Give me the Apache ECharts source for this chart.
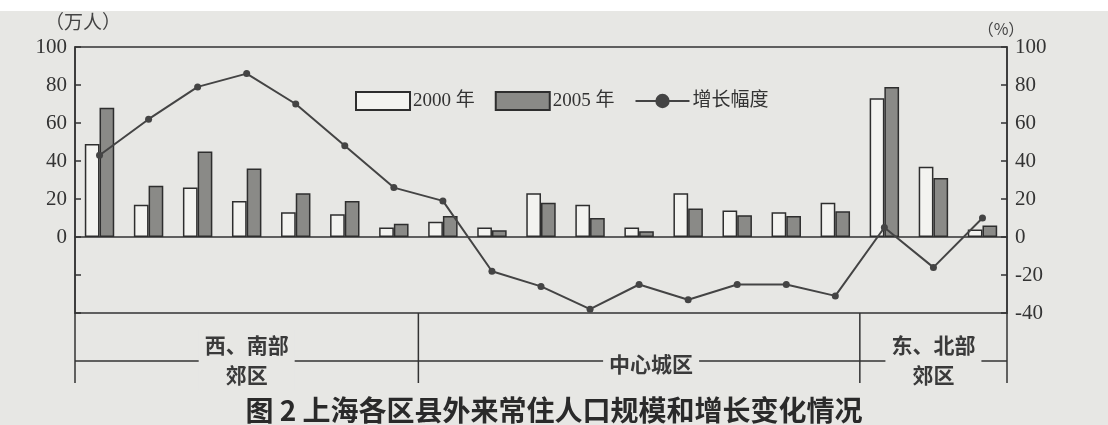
<!DOCTYPE html>
<html>
<head>
<meta charset="utf-8">
<script src="https://cdn.jsdelivr.net/npm/echarts@6/dist/echarts.min.js"></script>
<style>
html,body{margin:0;padding:0;background:#e7e7e4;}
#c{width:1108px;height:425px;}
</style>
</head>
<body>
<div id="c"></div>
<script>
// ---- data ----
const categories = ['区县1','区县2','区县3','区县4','区县5','区县6','区县7','区县8','区县9','区县10',
  '区县11','区县12','区县13','区县14','区县15','区县16','区县17','区县18','区县19'];
const pop2000 = [49, 17, 26, 19, 13, 12, 5, 8, 5, 23, 17, 5, 23, 14, 13, 18, 73, 37, 4];
const pop2005 = [68, 27, 45, 36, 23, 19, 7, 11, 3.5, 18, 10, 3, 15, 11.5, 11, 13.5, 79, 31, 6];
const growth  = [43, 62, 79, 86, 70, 48, 26, 19, -18, -26, -38, -25, -33, -25, -25, -31, 5, -16, 10];
const groups = [
  {name: '西、南部\n郊区', from: 0, to: 6},
  {name: '中心城区', from: 7, to: 15},
  {name: '东、北部\n郊区', from: 16, to: 18}
];
const leftTicks = [-40, 100, 20];
const caption = '图 2 上海各区县外来常住人口规模和增长变化情况';

const BG = '#e7e7e4';
const INK = '#333333';
const SERIF = '"Liberation Serif","Noto Sans CJK SC",serif';
const CJK = '"Noto Sans CJK SC",sans-serif';

const chart = echarts.init(document.getElementById('c'));
const option = {
  backgroundColor: BG,
  animation: false,
  title: {
    text: caption, left: 'center', top: 391,
    textStyle: {fontFamily: CJK, fontSize: 28, fontWeight: 'bold', color: '#2a2a2a'}
  },
  legend: {
    left: 350, top: 86, itemWidth: 54, itemHeight: 18, itemGap: 20,
    textStyle: {fontFamily: SERIF, fontSize: 19, color: INK, padding: [0, 0, 0, -2]},
    data: [{name: '2000 年', icon: 'rect'}, {name: '2005 年', icon: 'rect'}, {name: '增长幅度'}]
  },
  grid: {left: 75, right: 101, top: 47, bottom: 112, show: true,
    borderColor: INK, borderWidth: 1.5, backgroundColor: 'transparent'},
  xAxis: {
    type: 'category', data: categories,
    axisLine: {onZero: true, lineStyle: {color: INK, width: 1.5}},
    axisTick: {inside: true, length: 5, lineStyle: {color: INK, width: 1.5}},
    axisLabel: {show: false}
  },
  yAxis: [
    {type: 'value', min: leftTicks[0], max: leftTicks[1], interval: leftTicks[2],
      name: '（万人）', nameLocation: 'end', nameGap: 16,
      nameTextStyle: {fontFamily: CJK, fontSize: 19, color: '#444', padding: [0, 0, 0, 16], align: 'center'},
      axisLine: {show: true, lineStyle: {color: INK, width: 1.5}},
      axisTick: {show: true, inside: true, length: 6, lineStyle: {color: INK, width: 1.5}},
      axisLabel: {fontFamily: SERIF, fontSize: 21, color: INK, margin: 8,
        formatter: v => (v < 0 ? '' : String(v))},
      splitLine: {show: false}},
    {type: 'value', min: leftTicks[0], max: leftTicks[1], interval: leftTicks[2],
      name: '（%）', nameLocation: 'end', nameGap: 8,
      nameTextStyle: {fontFamily: CJK, fontSize: 16, color: '#444', align: 'center', padding: [0, 12, 0, 0]},
      axisLine: {show: true, lineStyle: {color: INK, width: 1.5}},
      axisTick: {show: true, inside: true, length: 6, lineStyle: {color: INK, width: 1.5}},
      axisLabel: {fontFamily: SERIF, fontSize: 21, color: INK, margin: 8},
      splitLine: {show: false}}
  ],
  series: [
    {name: '2000 年', type: 'bar', data: pop2000, barWidth: '30%', barGap: '0%',
      itemStyle: {color: '#f3f3f0', borderColor: '#2e2e2e', borderWidth: 1.5}},
    {name: '2005 年', type: 'bar', data: pop2005, barWidth: '30%', barGap: '0%',
      itemStyle: {color: '#8a8a87', borderColor: '#2e2e2e', borderWidth: 1.5}},
    {name: '增长幅度', type: 'line', yAxisIndex: 1, data: growth,
      symbol: 'circle', symbolSize: 7,
      lineStyle: {color: '#444', width: 2},
      itemStyle: {color: '#444'}, z: 5}
  ]
};
chart.setOption(option);

// ---- grouping table below the plot, positioned from the axis scale ----
function catX(i) { return chart.convertToPixel({xAxisIndex: 0}, i); }
const step = catX(1) - catX(0);
const xL = catX(0) - step / 2;
const xR = catX(categories.length - 1) + step / 2;
const yB = chart.convertToPixel({yAxisIndex: 0}, leftTicks[0]);
const tableH = 70, midY = yB + 48;
const lineStyle = {stroke: INK, lineWidth: 1.5};
const els = [];
els.push({type: 'rect', shape: {x: 0, y: 0, width: 1108, height: 11}, style: {fill: '#ffffff'}, z: 0, silent: true});
els.push({type: 'line', shape: {x1: xL, y1: yB, x2: xL, y2: yB + tableH}, style: lineStyle});
els.push({type: 'line', shape: {x1: xR, y1: yB, x2: xR, y2: yB + tableH}, style: lineStyle});
els.push({type: 'line', shape: {x1: xL, y1: midY, x2: xR, y2: midY}, style: lineStyle});
groups.forEach((g, k) => {
  const a = catX(g.from) - step / 2, b = catX(g.to) + step / 2;
  if (k > 0) els.push({type: 'line', shape: {x1: a, y1: yB, x2: a, y2: yB + tableH}, style: lineStyle});
  const twoLine = g.name.indexOf('\n') >= 0;
  const cx = (a + b) / 2 + (twoLine ? 0 : 12);
  els.push({type: 'text', x: cx, y: twoLine ? midY - 1 : midY + 3, z: 10,
    style: {text: g.name, align: 'center', verticalAlign: 'middle',
      font: 'bold 21px "Noto Sans CJK SC", sans-serif', fill: '#3a3a3a', lineHeight: 30,
      backgroundColor: BG, padding: [0, 6, 0, 6]}});
});
chart.setOption({graphic: {elements: els}});
</script>
</body>
</html>
